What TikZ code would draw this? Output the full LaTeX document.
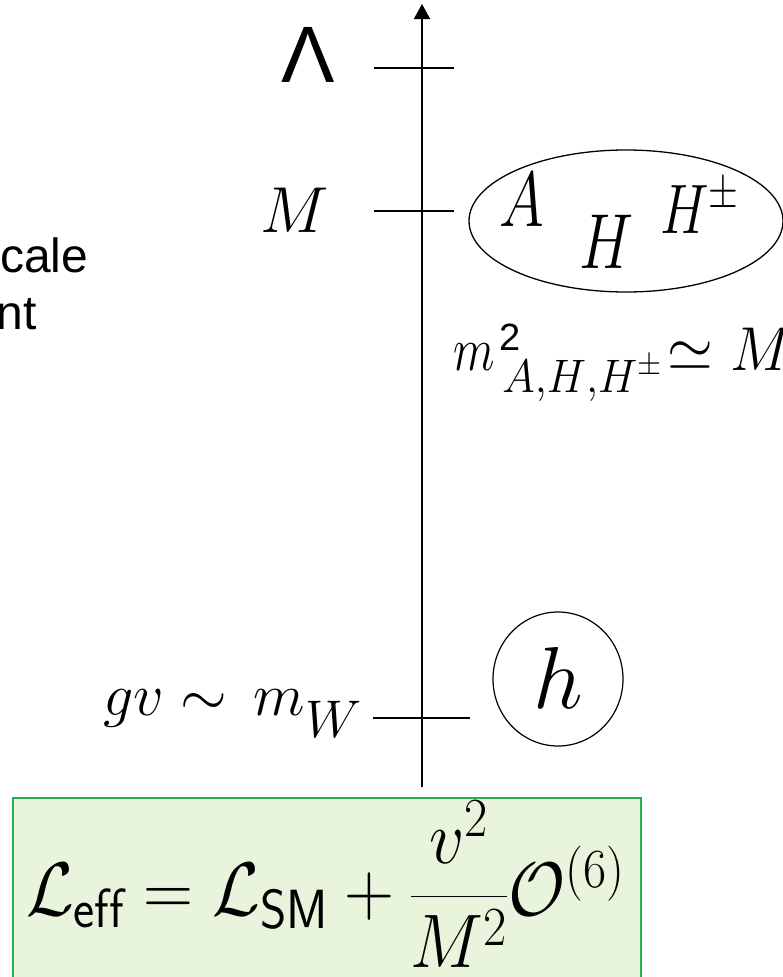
\RequirePackage{fix-cm}
\documentclass[tikz,border=0pt]{standalone}
\usepackage{graphicx}
\usepackage{fontspec}
\newfontfamily\arialfont{Liberation Sans}
\usetikzlibrary{arrows.meta,shapes.geometric}
\DeclareMathSizes{66}{66}{48}{34}
\definecolor{boxgreen}{HTML}{22B14C}
\definecolor{boxfill}{HTML}{E8F4DC}
\begin{document}
\begin{tikzpicture}[x=1pt,y=-1pt,
  tickline/.style={line width=1.6pt},
  axisline/.style={line width=1.6pt,-{Triangle[width=16pt,length=15pt]}},
  lbl/.style={inner sep=0pt,outer sep=0pt},
  blob/.style={draw,ellipse,line width=1.3pt,inner sep=0pt}]
\useasboundingbox (0,0) rectangle (783,977);
\clip (0,0) rectangle (783,977);

% green formula box
\node[draw=boxgreen,fill=boxfill,line width=1.5pt,minimum width=628pt,minimum height=200pt,anchor=north west,inner sep=0pt] (leffbox) at (12,797) {};
\node[lbl,anchor=base west] (leff) at (26,915)
  {\scalebox{1.05}[1.15]{\fontsize{66}{66}\selectfont$\mathcal{L}_{\mathsf{eff}} = \mathcal{L}_{\mathsf{SM}} + {\displaystyle\frac{v^2}{M^2}}\mathcal{O}^{(6)}$}};

% axis
\coordinate (axbot) at (422,787);
\coordinate (axtop) at (422,4);
\draw[axisline] (axbot) -- (axtop);

% ticks
\coordinate (t1a) at (374,68);  \coordinate (t1b) at (454,68);
\coordinate (t2a) at (374,211); \coordinate (t2b) at (454,211);
\coordinate (t3a) at (373,718); \coordinate (t3b) at (470,718);
\draw[tickline] (t1a) -- (t1b);
\draw[tickline] (t2a) -- (t2b);
\draw[tickline] (t3a) -- (t3b);

% left labels
\node[lbl,anchor=base] (lam) at (308,82) {\arialfont\fontsize{80}{80}\selectfont Λ};
\node[lbl,anchor=base] (mlab) at (295,232) {\fontsize{65}{65}\selectfont$M$};
\node[lbl,anchor=base west] (gvlab) at (103,715)
  {\fontsize{60}{60}\selectfont$gv\sim\mskip3mu m$\raisebox{-22pt}{\fontsize{53}{53}\selectfont$W$}};
\node[lbl,anchor=base west] (txtone) at (0,272) {\arialfont\fontsize{48}{48}\selectfont cale};
\node[lbl,anchor=base west] (txttwo) at (-3,329) {\arialfont\fontsize{48}{48}\selectfont nt};

% heavy states
\node[blob,minimum width=314pt,minimum height=142pt] (heavy) at (626,221) {};
\node[lbl,anchor=base] (hA) at (522,226) {\scalebox{0.78}[1]{\fontsize{78}{78}\selectfont$A$}};
\node[lbl,anchor=base] (hH) at (607,268) {\scalebox{0.78}[1]{\fontsize{78}{78}\selectfont$H$}};
\node[lbl,anchor=base west] (hHpm) at (660,233) {\scalebox{0.78}[1]{\fontsize{70}{70}\selectfont$H^{\pm}$}};
\node[lbl,anchor=base west] (mass) at (453,370)
  {\scalebox{0.78}[1]{\fontsize{62}{62}\selectfont$m$}%
   \hspace{5pt}\makebox[0pt][l]{\raisebox{20pt}{\arialfont\fontsize{38}{38}\selectfont 2}}%
   \hspace{3pt}\raisebox{-22pt}{\scalebox{0.94}[1]{\fontsize{47}{47}\selectfont$A{,}H{,}H^{\pm}$}}%
   \hspace{6pt}\scalebox{0.95}[1]{\fontsize{62}{62}\selectfont$\simeq M^2$}};

% light higgs
\node[blob,line width=1.2pt,minimum width=130pt,minimum height=134pt] (light) at (558,679) {};
\node[lbl,anchor=base] (hh) at (558,708) {\fontsize{88}{88}\selectfont$h$};
\end{tikzpicture}
\end{document}
